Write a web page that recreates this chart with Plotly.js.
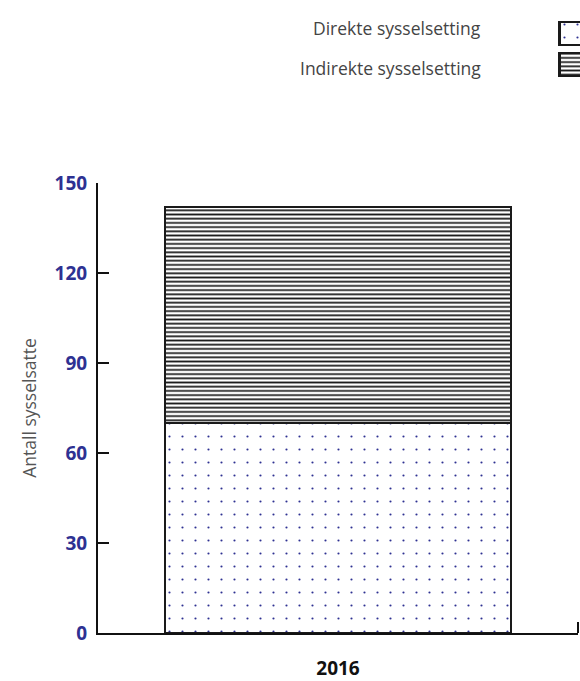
<!DOCTYPE html>
<html><head><meta charset="utf-8">
<script src="https://cdn.plot.ly/plotly-3.0.1.min.js"></script>
<style>html,body{margin:0;padding:0;background:#fff}#c{width:580px;height:681px}</style>
</head><body><div id="c"></div>
<script>
const years = ["2016"];
const direkte = [70];
const indirekte = [72];
const seriesNames = ["Direkte sysselsetting", "Indirekte sysselsetting"];
const yTicks = [0, 30, 60, 90, 120, 150];
const yTitle = "Antall sysselsatte";

const FONT = "Open Sans, sans-serif";
const H = 633; // plot area height in px (margin b = 48)
const py = p => (H - p) / H;

const dotPattern = {shape: ".", fgcolor: "#2e3192", bgcolor: "#ffffff", size: 13, solidity: 0.022};
const linePattern = {shape: "-", fgcolor: "#1e1e1e", bgcolor: "#ffffff", size: 4.2, solidity: 0.42};
const outline = {color: "#1a1a1a", width: 2.5};

const traces = [
  {type: "bar", x: years, y: direkte, name: seriesNames[0], width: 0.72,
   marker: {color: "#ffffff", pattern: dotPattern, line: outline}, showlegend: false, hoverinfo: "skip"},
  {type: "bar", x: years, y: indirekte, name: seriesNames[1], width: 0.72,
   marker: {color: "#ffffff", pattern: linePattern, line: outline}, showlegend: false, hoverinfo: "skip"},
  // legend swatches (inset axes)
  {type: "bar", orientation: "h", y: ["Direkte"], x: [5], base: 0, width: 0.74, xaxis: "x2", yaxis: "y2",
   marker: {color: "#ffffff", pattern: dotPattern, line: outline}, showlegend: false, hoverinfo: "skip"},
  {type: "bar", orientation: "h", y: ["Indirekte"], x: [5], base: 0, width: 0.74, xaxis: "x2", yaxis: "y2",
   marker: {color: "#ffffff", pattern: linePattern, line: outline}, showlegend: false, hoverinfo: "skip"}
];

const layout = {
  width: 580, height: 681,
  margin: {l: 0, r: 0, t: 0, b: 48},
  paper_bgcolor: "#ffffff", plot_bgcolor: "rgba(0,0,0,0)",
  barmode: "stack",
  showlegend: false,
  font: {family: FONT, size: 16, color: "#333"},
  xaxis: {
    domain: [98/580, 578/580], type: "category", range: [-0.5, 0.5],
    showline: true, linecolor: "#111", linewidth: 2, showgrid: false, zeroline: false,
    ticks: "",
    tickfont: {family: FONT, size: 19, color: "#111", weight: "bold"},
    ticklabelstandoff: 17, fixedrange: true
  },
  yaxis: {
    domain: [0, py(183)], range: [0, 150], tickvals: yTicks,
    showline: true, linecolor: "#111", linewidth: 2, showgrid: false, zeroline: false,
    ticks: "inside", ticklen: 11, tickwidth: 2, tickcolor: "#111",
    tickfont: {family: FONT, size: 19, color: "#2e3192", weight: "bold"},
    ticklabelstandoff: 5,
    title: {text: yTitle, font: {family: FONT, size: 17.5, color: "#555"}, standoff: 13},
    fixedrange: true
  },
  xaxis2: {domain: [558/580, 1], anchor: "y2", range: [-0.06, 1], visible: false, fixedrange: true},
  yaxis2: {domain: [py(80), py(18)], anchor: "x2", type: "category",
    categoryorder: "array", categoryarray: ["Indirekte", "Direkte"], range: [-0.5, 1.5],
    visible: false, fixedrange: true},
  shapes: [
    {type: "line", xref: "x domain", yref: "y", ysizemode: "pixel", yanchor: 0,
     x0: 1, x1: 1, y0: -1, y1: 11, line: {color: "#111", width: 2}}
  ],
  annotations: [
    {text: seriesNames[0], xref: "paper", yref: "paper", x: 483/580, y: py(28), xanchor: "right", yanchor: "middle",
     showarrow: false, font: {family: FONT, size: 17.5, color: "#444"}},
    {text: seriesNames[1], xref: "paper", yref: "paper", x: 483/580, y: py(68), xanchor: "right", yanchor: "middle",
     showarrow: false, font: {family: FONT, size: 17.5, color: "#444"}}
  ]
};

Plotly.newPlot("c", traces, layout, {displayModeBar: false, staticPlot: true});
</script></body></html>
